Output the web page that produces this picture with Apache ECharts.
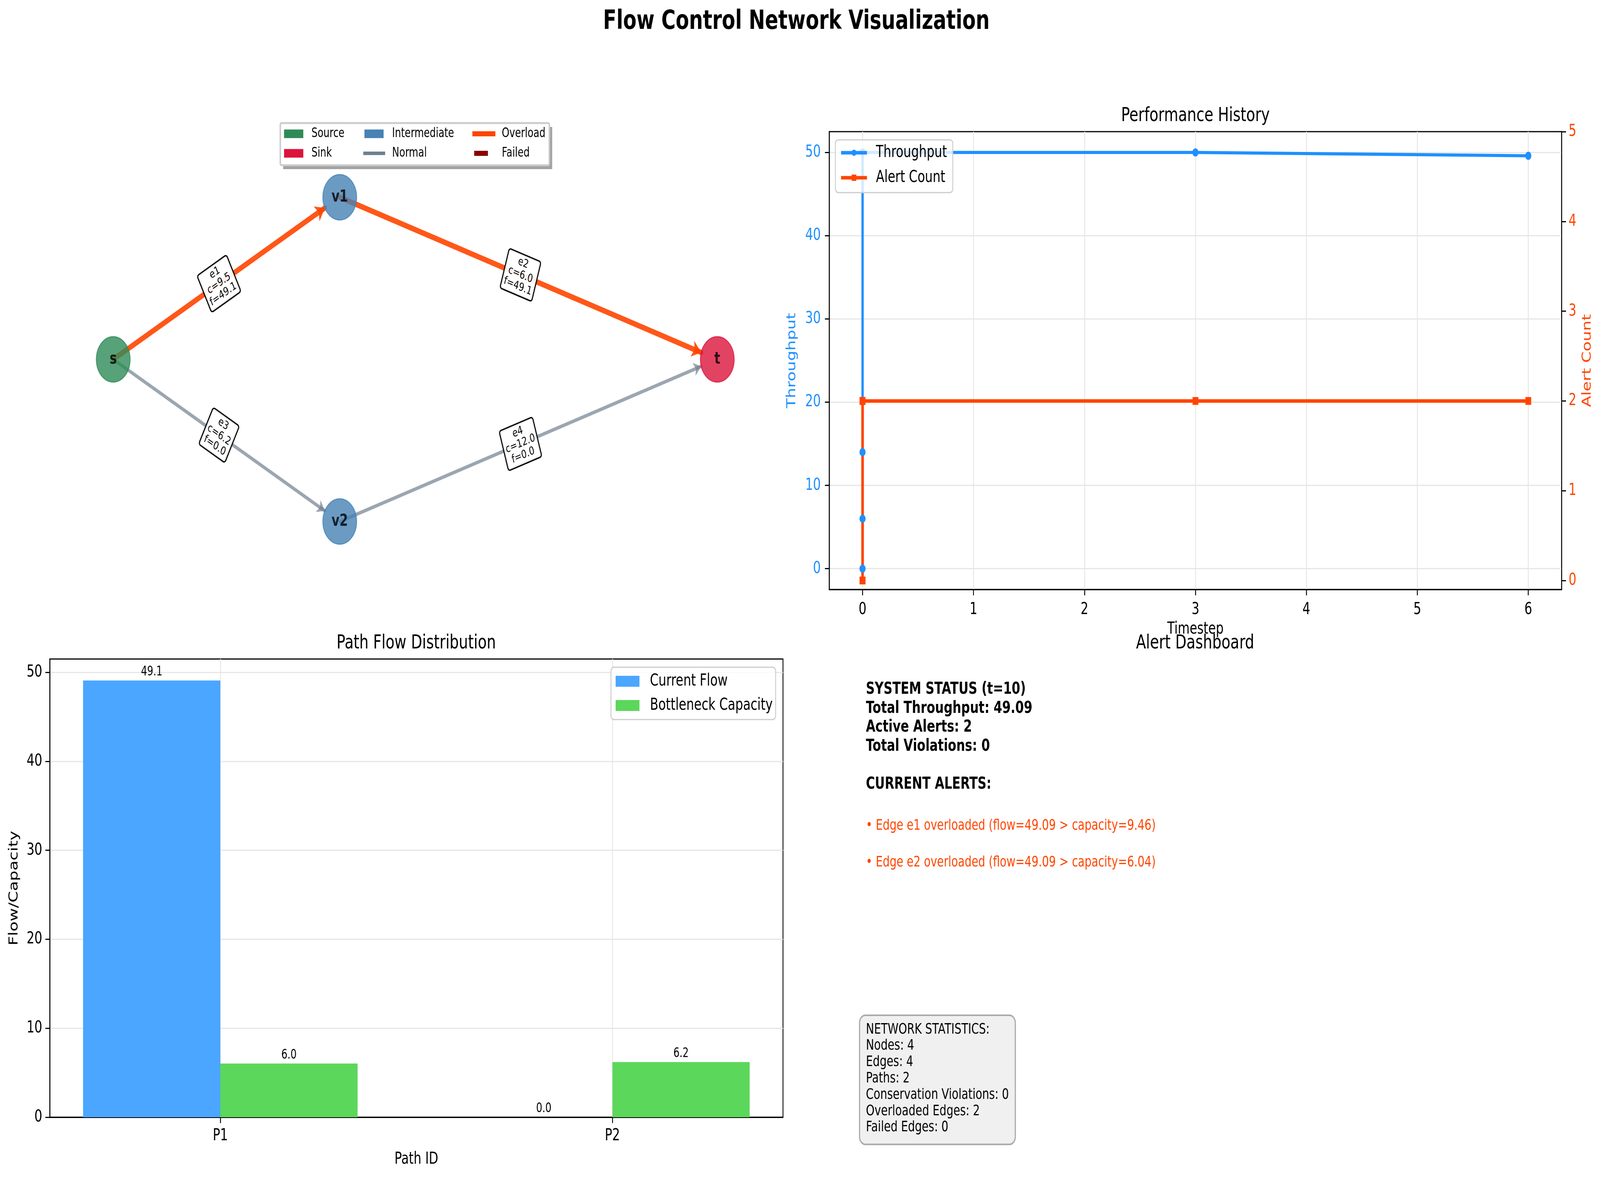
<!DOCTYPE html>
<html>
<head>
<meta charset="utf-8">
<title>Flow Control Network Visualization</title>
<script src="https://cdn.jsdelivr.net/npm/echarts@6.0.0/dist/echarts.min.js"></script>
<style>
  html, body { margin: 0; padding: 0; background: #fff; overflow: hidden; }
  #wrap { width: 100vw; height: 100vh; overflow: hidden; position: relative; }
  #main { width: 5497px; height: 3013px; transform-origin: 0 0; }
</style>
</head>
<body>
<div id="wrap"><div id="main"></div></div>
<script>
// network nodes
var nodeNames = ['s', 'v1', 'v2', 't'];
var nodeTypes = ['Source', 'Intermediate', 'Intermediate', 'Sink'];
var nodeX = [0, 0.3, 0.3, 0.8];
var nodeY = [0.5, 1, 0, 0.5];
var categoryNames = ['Source', 'Sink', 'Intermediate'];

// edges
var edgeIds = ['e1', 'e2', 'e3', 'e4'];
var edgeFrom = ['s', 'v1', 's', 'v2'];
var edgeTo = ['v1', 't', 'v2', 't'];
var edgeCapacity = [9.46, 6.04, 6.2, 12.0];
var edgeFlow = [49.09, 49.09, 0.0, 0.0];

// performance history
var timesteps = [0, 0, 0, 0, 3, 6];
var throughput = [0, 6, 14, 50, 50, 49.6];
var alertCounts = [0, 0, 2, 2, 2, 2];
var timestepTicks = [0, 1, 2, 3, 4, 5, 6];
var throughputTicks = [0, 10, 20, 30, 40, 50];
var alertTicks = [0, 1, 2, 3, 4, 5];

// path flows
var pathIds = ['P1', 'P2'];
var pathFlow = [49.09, 0.0];
var pathBottleneck = [6.04, 6.2];
var flowTicks = [0, 10, 20, 30, 40, 50];

// dashboard
var currentStep = 10;
var totalViolations = 0;
var failedEdges = 0;

var FONT = 'DejaVu Sans';
var nodeColors = { Source: '#2e8b57', Sink: '#dc143c', Intermediate: '#4682b4' };

var overloaded = edgeIds.map(function (id, i) { return edgeFlow[i] > edgeCapacity[i]; });
var overCount = overloaded.filter(function (o) { return o; }).length;
var totalThroughput = pathFlow.reduce(function (a, b) { return a + b; }, 0);

// the drawing is laid out for 5497x3013; stretch it onto the real viewport
var vw = window.innerWidth, vh = window.innerHeight;
var sx = Math.min(1, vw / 5497), sy = Math.min(1, vh / 3013);
var mainEl = document.getElementById('main');
mainEl.style.transform = 'scale(' + sx + ',' + sy + ')';
var chart = echarts.init(mainEl, null, { devicePixelRatio: Math.max(1, window.devicePixelRatio || 1) });

function tickStyle() {
    return { show: true, length: 15, inside: false, lineStyle: { color: '#000', width: 3 } };
}
var lineBlack = { show: true, onZero: false, lineStyle: { color: '#000', width: 3 } };
var gridLine = { show: true, lineStyle: { color: '#e6e6e6', width: 3 } };

// dashboard text
var statusText = 'SYSTEM STATUS (t=' + currentStep + ')\n' +
    'Total Throughput: ' + totalThroughput.toFixed(2) + '\n' +
    'Active Alerts: ' + overCount + '\n' +
    'Total Violations: ' + totalViolations + '\n\n' +
    'CURRENT ALERTS:';
var statsText = 'NETWORK STATISTICS:\n' +
    'Nodes: ' + nodeNames.length + '\n' +
    'Edges: ' + edgeIds.length + '\n' +
    'Paths: ' + pathIds.length + '\n' +
    'Conservation Violations: ' + totalViolations + '\n' +
    'Overloaded Edges: ' + overCount + '\n' +
    'Failed Edges: ' + failedEdges;

var graphics = [
    { type: 'rect', z: 1, shape: { x: 973, y: 325, width: 924, height: 108 }, style: { fill: '#a3a3a3' } },
    { type: 'rect', z: 2, shape: { x: 963, y: 315, width: 924, height: 108, r: 4 },
      style: { fill: '#fff', stroke: '#cccccc', lineWidth: 5 } },
    { type: 'text', x: 2736, y: 57, style: { text: 'Flow Control Network Visualization', fontFamily: FONT,
      fontSize: 67, fontWeight: 'bold', fill: '#000', align: 'center', verticalAlign: 'middle' } },
    { type: 'text', x: 4107, y: 297, style: { text: 'Performance History', fontFamily: FONT,
      fontSize: 50, fill: '#000', align: 'center', verticalAlign: 'middle' } },
    { type: 'text', x: 1430, y: 1647, style: { text: 'Path Flow Distribution', fontFamily: FONT,
      fontSize: 50, fill: '#000', align: 'center', verticalAlign: 'middle' } },
    { type: 'text', x: 4106, y: 1647, style: { text: 'Alert Dashboard', fontFamily: FONT,
      fontSize: 50, fill: '#000', align: 'center', verticalAlign: 'middle' } },
    { type: 'text', x: 2975, y: 1741, style: { text: statusText, fontFamily: FONT, fontSize: 42,
      fontWeight: 'bold', lineHeight: 48.5, fill: '#000', align: 'left', verticalAlign: 'top' } },
    { type: 'text', x: 2955, y: 2601, style: { text: statsText, fontFamily: FONT, fontSize: 37.5,
      lineHeight: 41.8, fill: '#000', align: 'left', verticalAlign: 'top',
      backgroundColor: '#f0f0f0', borderColor: '#aaaaaa', borderWidth: 4, borderRadius: 18,
      padding: [14, 20, 20, 20] } }
];
var k = 0;
edgeIds.forEach(function (id, i) {
    if (!overloaded[i]) return;
    graphics.push({ type: 'text', x: 2975, y: 2114 + k * 94, style: {
        text: '\u2022 Edge ' + id + ' overloaded (flow=' + edgeFlow[i].toFixed(2) +
              ' > capacity=' + edgeCapacity[i].toFixed(2) + ')',
        fontFamily: FONT, fontSize: 37.5, fill: '#ff4500', align: 'left', verticalAlign: 'middle' } });
    k++;
});

// small legends that imitate the matplotlib 3-column legend box
function netLegend(names, left, top, w, h, pad) {
    return { data: names, left: left, top: top, orient: 'vertical', padding: 0, icon: 'rect',
             itemWidth: w, itemHeight: h, itemGap: 17, selectedMode: false, z: 5,
             itemStyle: { opacity: 1, borderWidth: 0 },
             textStyle: { fontSize: 33, lineHeight: 33, color: '#000', padding: [0, 0, 0, pad] } };
}

var option = {
    animation: false,
    backgroundColor: '#fff',
    textStyle: { fontFamily: FONT },
    grid: [
        { left: 171, top: 300, width: 2519, height: 1240, show: false, outerBoundsMode: 'none' },
        { left: 2849, top: 337, width: 2516, height: 1172, show: true, borderColor: '#000', borderWidth: 3,
          backgroundColor: 'transparent', outerBoundsMode: 'none' },
        { left: 171, top: 1687, width: 2519, height: 1173, show: true, borderColor: '#000', borderWidth: 3,
          backgroundColor: 'transparent', outerBoundsMode: 'none' }
    ],
    xAxis: [
        { gridIndex: 0, type: 'value', min: -0.084, max: 0.887, show: false },
        { gridIndex: 1, type: 'value', min: -0.3, max: 6.3, splitNumber: 6,
          axisLine: lineBlack, axisTick: Object.assign(tickStyle(), { customValues: timestepTicks }),
          axisLabel: { customValues: timestepTicks, fontSize: 42, lineHeight: 42, color: '#000', margin: 31 },
          splitLine: gridLine,
          name: 'Timestep', nameLocation: 'middle', nameGap: 81, nameMoveOverlap: false,
          nameTextStyle: { fontSize: 42, color: '#000' } },
        { gridIndex: 2, type: 'value', min: -0.435, max: 1.435, splitNumber: 2,
          axisLine: lineBlack, axisTick: Object.assign(tickStyle(), { customValues: pathIds.map(function (p, i) { return i; }) }),
          axisLabel: { customValues: pathIds.map(function (p, i) { return i; }), fontSize: 42, lineHeight: 42,
                       color: '#000', margin: 27,
                       formatter: function (v) { return pathIds[Math.round(v)]; } },
          splitLine: gridLine,
          name: 'Path ID', nameLocation: 'middle', nameGap: 87, nameMoveOverlap: false,
          nameTextStyle: { fontSize: 42, color: '#000' } }
    ],
    yAxis: [
        { gridIndex: 0, type: 'value', min: -0.247, max: 1.247, show: false },
        { gridIndex: 1, type: 'value', min: -2.5, max: 52.5, splitNumber: 5,
          axisLine: lineBlack, axisTick: Object.assign(tickStyle(), { customValues: throughputTicks }),
          axisLabel: { customValues: throughputTicks, fontSize: 42, color: '#1e90ff', margin: 29 },
          splitLine: gridLine,
          name: 'Throughput', nameLocation: 'middle', nameGap: 107, nameRotate: 90, nameMoveOverlap: false,
          nameTextStyle: { fontSize: 42, color: '#1e90ff' } },
        { gridIndex: 1, type: 'value', position: 'right', min: -0.1, max: 5, splitNumber: 5,
          axisLine: lineBlack, axisTick: Object.assign(tickStyle(), { customValues: alertTicks }),
          axisLabel: { customValues: alertTicks, fontSize: 42, color: '#ff4500', margin: 24 },
          splitLine: { show: false },
          name: 'Alert Count', nameLocation: 'middle', nameGap: 68, nameRotate: 90, nameMoveOverlap: false,
          nameTextStyle: { fontSize: 42, color: '#ff4500' } },
        { gridIndex: 2, type: 'value', min: 0, max: 51.5, splitNumber: 5,
          axisLine: lineBlack, axisTick: Object.assign(tickStyle(), { customValues: flowTicks }),
          axisLabel: { customValues: flowTicks, fontSize: 42, color: '#000', margin: 26 },
          splitLine: gridLine,
          name: 'Flow/Capacity', nameLocation: 'middle', nameGap: 101, nameRotate: 90, nameMoveOverlap: false,
          nameTextStyle: { fontSize: 42, color: '#000' } }
    ],
    legend: [
        netLegend(['Source', 'Sink'], 976, 326, 66, 22, 23),
        netLegend(['Intermediate'], 1252, 326, 66, 22, 24),
        netLegend(['Normal'], 1248, 376, 75, 9, 19),
        netLegend(['Overload'], 1623, 326, 79, 13, 17),
        netLegend(['Failed'], 1629, 376, 47, 13, 43),
        { data: ['Throughput', 'Alert Count'], left: 2870, top: 358, orient: 'vertical',
          padding: [12, 20, 17, 15], itemWidth: 89, itemHeight: 20, itemGap: 22, selectedMode: false, z: 5,
          lineStyle: { width: 9 },
          backgroundColor: 'rgba(255,255,255,0.8)', borderColor: '#cccccc', borderWidth: 3, borderRadius: 10,
          textStyle: { fontSize: 42, lineHeight: 42, color: '#000', padding: [0, 0, 0, 26] } },
        { data: ['Current Flow', 'Bottleneck Capacity'], left: 2099, top: 1708, orient: 'vertical',
          padding: [15, 10, 15, 16], itemWidth: 82, itemHeight: 28, itemGap: 20, icon: 'rect',
          selectedMode: false, z: 5,
          backgroundColor: 'rgba(255,255,255,0.8)', borderColor: '#cccccc', borderWidth: 3, borderRadius: 10,
          textStyle: { fontSize: 42, lineHeight: 42, color: '#000', padding: [0, 0, 0, 31] } }
    ],
    graphic: graphics,
    series: [
        {
            type: 'graph',
            coordinateSystem: 'cartesian2d',
            xAxisIndex: 0,
            yAxisIndex: 0,
            symbolSize: 116,
            edgeSymbol: ['none', 'arrow'],
            edgeSymbolSize: [0, 30],
            categories: categoryNames.map(function (n) {
                return { name: n, itemStyle: { color: nodeColors[n], borderColor: nodeColors[n], borderWidth: 3 } };
            }),
            itemStyle: { opacity: 0.8 },
            label: { show: true, position: 'inside', fontSize: 42, fontWeight: 'bold', color: '#000' },
            lineStyle: { opacity: 1, cap: 'round' },
            edgeLabel: {
                show: true, position: 'middle', verticalAlign: 'middle', align: 'center', distance: 0,
                fontSize: 29, lineHeight: 31, color: '#000',
                backgroundColor: 'rgba(255,255,255,0.92)', borderColor: '#000', borderWidth: 3.5,
                borderRadius: 5, padding: [5, 6]
            },
            emphasis: { disabled: true },
            data: nodeNames.map(function (n, i) {
                return { name: n, value: [nodeX[i], nodeY[i]], category: categoryNames.indexOf(nodeTypes[i]) };
            }),
            links: edgeIds.map(function (id, i) {
                var over = overloaded[i];
                return {
                    source: edgeFrom[i],
                    target: edgeTo[i],
                    symbolSize: [0, over ? 32 : 26],
                    lineStyle: { color: over ? 'rgba(255,69,0,0.9)' : 'rgba(112,128,144,0.7)', width: over ? 14 : 9 },
                    label: { formatter: id + '\nc=' + edgeCapacity[i].toFixed(1) + '\nf=' + edgeFlow[i].toFixed(1) }
                };
            })
        },
        { type: 'line', name: 'Normal', xAxisIndex: 0, yAxisIndex: 0, data: [], symbol: 'none',
          color: '#708090', lineStyle: { width: 9 } },
        { type: 'line', name: 'Overload', xAxisIndex: 0, yAxisIndex: 0, data: [], symbol: 'none',
          color: '#ff4500', lineStyle: { width: 13 } },
        { type: 'line', name: 'Failed', xAxisIndex: 0, yAxisIndex: 0, data: [], symbol: 'none',
          color: '#8b0000', lineStyle: { width: 13 } },
        {
            type: 'line', name: 'Throughput', xAxisIndex: 1, yAxisIndex: 1,
            data: timesteps.map(function (t, i) { return [t, throughput[i]]; }),
            color: '#1e90ff', symbol: 'circle', symbolSize: 21, showAllSymbol: true,
            lineStyle: { width: 8 }, itemStyle: { color: '#1e90ff' }
        },
        {
            type: 'line', name: 'Alert Count', xAxisIndex: 1, yAxisIndex: 2,
            data: timesteps.map(function (t, i) { return [t, alertCounts[i]]; }),
            color: '#ff4500', symbol: 'rect', symbolSize: 20, showAllSymbol: true,
            lineStyle: { width: 9 }, itemStyle: { color: '#ff4500' }
        },
        {
            type: 'bar', name: 'Current Flow', xAxisIndex: 2, yAxisIndex: 3,
            data: pathFlow.map(function (v, i) { return [i, v]; }),
            barWidth: '35%', barGap: '0%', itemStyle: { color: '#4ba6ff' },
            label: { show: true, position: 'top', distance: 5, fontSize: 33, color: '#000',
                     formatter: function (p) { return p.value[1].toFixed(1); } }
        },
        {
            type: 'bar', name: 'Bottleneck Capacity', xAxisIndex: 2, yAxisIndex: 3,
            data: pathBottleneck.map(function (v, i) { return [i, v]; }),
            barWidth: '35%', barGap: '0%', itemStyle: { color: '#5bd75b' },
            label: { show: true, position: 'top', distance: 5, fontSize: 33, color: '#000',
                     formatter: function (p) { return p.value[1].toFixed(1); } }
        }
    ]
};

chart.setOption(option);
</script>
</body>
</html>
